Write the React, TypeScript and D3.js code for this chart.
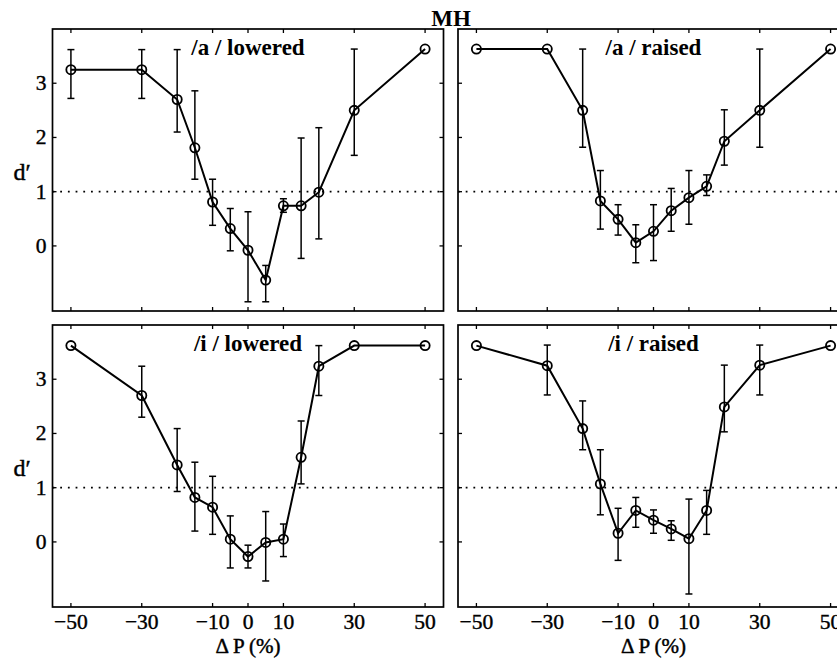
import React from "react";
import * as d3 from "d3";

// Pitch shift conditions (ΔP, %)
const deltaP = [-50, -30, -20, -15, -10, -5, 0, 5, 10, 15, 20, 30, 50];
const xTicks = [-50, -30, -10, 0, 10, 30, 50];
const yTicks = [0, 1, 2, 3];

// /a/ lowered: d' with error-bar upper / lower ends (null = no bar)
const aLoweredD = [3.25, 3.25, 2.7, 1.81, 0.81, 0.32, -0.08, -0.63, 0.74, 0.74, 0.99, 2.5, 3.63];
const aLoweredHi = [3.62, 3.62, 3.62, 2.86, 1.23, 0.69, 0.63, -0.36, 0.87, 1.99, 2.18, 3.63, null];
const aLoweredLo = [2.72, 2.72, 2.1, 1.23, 0.38, -0.09, -1.03, -1.03, 0.62, -0.23, 0.13, 1.67, null];

// /a/ raised
const aRaisedD = [3.63, 3.63, 2.5, 0.83, 0.49, 0.06, 0.27, 0.65, 0.89, 1.1, 1.93, 2.5, 3.63];
const aRaisedHi = [null, null, 3.63, 1.39, 0.76, 0.39, 0.76, 1.06, 1.39, 1.31, 2.51, 3.63, null];
const aRaisedLo = [null, null, 1.82, 0.31, 0.2, -0.31, -0.27, 0.27, 0.4, 0.93, 1.49, 1.82, null];

// /i/ lowered
const iLoweredD = [3.62, 2.7, 1.42, 0.82, 0.64, 0.05, -0.27, -0.01, 0.05, 1.56, 3.24, 3.62, 3.62];
const iLoweredHi = [null, 3.24, 2.09, 1.47, 1.21, 0.48, -0.06, 0.56, 0.33, 2.23, 3.62, null, null];
const iLoweredLo = [null, 2.3, 0.93, 0.2, 0.14, -0.48, -0.48, -0.72, -0.27, 1.07, 2.7, null, null];

// /i/ raised
const iRaisedD = [3.62, 3.25, 2.09, 1.07, 0.16, 0.58, 0.4, 0.24, 0.06, 0.58, 2.49, 3.26, 3.62];
const iRaisedHi = [null, 3.63, 2.6, 1.7, 0.62, 0.82, 0.59, 0.39, 0.79, 0.95, 3.26, 3.63, null];
const iRaisedLo = [null, 2.71, 1.7, 0.5, -0.34, 0.27, 0.16, 0.03, -0.96, 0.14, 2.03, 2.71, null];

const panelTitles = ["/a / lowered", "/a / raised", "/i / lowered", "/i / raised"];
const seriesD = [aLoweredD, aRaisedD, iLoweredD, iRaisedD];
const seriesHi = [aLoweredHi, aRaisedHi, iLoweredHi, iRaisedHi];
const seriesLo = [aLoweredLo, aRaisedLo, iLoweredLo, iRaisedLo];

const W = 837;
const H = 658;
const SERIF = "Liberation Serif, DejaVu Serif, serif";

const colLeft = [52.5, 458];
const rowTop = [29, 325];
const PW = 391;
const PH = 282;

type PanelProps = {
  idx: number;
  left: number;
  top: number;
  showY: boolean;
  showX: boolean;
};

function Panel({ idx, left, top, showY, showX }: PanelProps) {
  const x = d3.scaleLinear().domain([-55.2, 55.2]).range([left, left + PW]);
  const y = d3.scaleLinear().domain([-1.2, 4.0]).range([top + PH, top]);
  const d = seriesD[idx];
  const hi = seriesHi[idx];
  const lo = seriesLo[idx];
  const pts = deltaP.map((v, i) => [v, d[i]] as [number, number]);
  const line = d3
    .line<[number, number]>()
    .x((p) => x(p[0]))
    .y((p) => y(p[1]));
  const tickLen = 4;
  const cap = 3.5;
  const labelStyle = { fontFamily: SERIF, fontSize: 21.5 };

  return (
    <g>
      {/* reference line at d' = 1 */}
      <line
        x1={left}
        x2={left + PW}
        y1={y(1)}
        y2={y(1)}
        stroke="#000"
        strokeWidth={1.8}
        strokeDasharray="1.8 5.9"
      />
      {/* ticks on all four sides */}
      {xTicks.map((t) => (
        <g key={"xt" + t}>
          <line x1={x(t)} x2={x(t)} y1={top + PH} y2={top + PH - tickLen} stroke="#000" strokeWidth={1.3} />
          <line x1={x(t)} x2={x(t)} y1={top} y2={top + tickLen} stroke="#000" strokeWidth={1.3} />
        </g>
      ))}
      {yTicks.map((t) => (
        <g key={"yt" + t}>
          <line x1={left} x2={left + tickLen} y1={y(t)} y2={y(t)} stroke="#000" strokeWidth={1.3} />
          <line x1={left + PW} x2={left + PW - tickLen} y1={y(t)} y2={y(t)} stroke="#000" strokeWidth={1.3} />
        </g>
      ))}
      <rect x={left} y={top} width={PW} height={PH} fill="none" stroke="#000" strokeWidth={1.7} />

      {/* data line */}
      <path d={line(pts) || ""} fill="none" stroke="#000" strokeWidth={2} />
      {/* error bars */}
      {deltaP.map((v, i) =>
        hi[i] == null || lo[i] == null ? null : (
          <g key={"eb" + i} stroke="#000" strokeWidth={1.5}>
            <line x1={x(v)} x2={x(v)} y1={y(hi[i] as number)} y2={y(lo[i] as number)} />
            <line x1={x(v) - cap} x2={x(v) + cap} y1={y(hi[i] as number)} y2={y(hi[i] as number)} />
            <line x1={x(v) - cap} x2={x(v) + cap} y1={y(lo[i] as number)} y2={y(lo[i] as number)} />
          </g>
        )
      )}
      {/* open circle markers */}
      {pts.map((p, i) => (
        <circle key={"m" + i} cx={x(p[0])} cy={y(p[1])} r={4.6} fill="none" stroke="#000" strokeWidth={1.8} />
      ))}

      <text
        x={left + PW / 2}
        y={top + 26}
        textAnchor="middle"
        style={{ fontFamily: SERIF, fontWeight: 700, fontSize: 23 }}
      >
        {panelTitles[idx]}
      </text>

      {showY &&
        yTicks.map((t) => (
          <text
            key={"yl" + t}
            x={left - 6}
            y={y(t) + 7}
            textAnchor="end"
            stroke="#000"
            strokeWidth={0.4}
            style={labelStyle}
          >
            {t}
          </text>
        ))}
      {showY && (
        <text
          x={22}
          y={top + PH / 2 + 10}
          textAnchor="middle"
          stroke="#000"
          strokeWidth={0.45}
          style={{ fontFamily: SERIF, fontSize: 24 }}
        >
          d′
        </text>
      )}
      {showX &&
        xTicks.map((t) => (
          <text
            key={"xl" + t}
            x={x(t)}
            y={top + PH + 21.5}
            textAnchor="middle"
            stroke="#000"
            strokeWidth={0.4}
            style={labelStyle}
          >
            {t < 0 ? "−" + Math.abs(t) : String(t)}
          </text>
        ))}
      {showX && (
        <text
          x={left + PW / 2}
          y={top + PH + 46}
          textAnchor="middle"
          stroke="#000"
          strokeWidth={0.45}
          style={{ fontFamily: SERIF, fontSize: 21 }}
        >
          Δ P (%)
        </text>
      )}
    </g>
  );
}

export default function App() {
  return (
    <svg
      width={W}
      height={H}
      viewBox={`0 0 ${W} ${H}`}
      style={{ position: "absolute", left: 0, top: 0, background: "#fff", overflow: "hidden" }}
    >
      <rect x={0} y={0} width={W} height={H} fill="#fff" />
      <text x={451} y={26} textAnchor="middle" style={{ fontFamily: SERIF, fontWeight: 700, fontSize: 23 }}>
        MH
      </text>
      {[0, 1, 2, 3].map((idx) => {
        const col = idx % 2;
        const row = Math.floor(idx / 2);
        return (
          <Panel
            key={idx}
            idx={idx}
            left={colLeft[col]}
            top={rowTop[row]}
            showY={col === 0}
            showX={row === 1}
          />
        );
      })}
    </svg>
  );
}
